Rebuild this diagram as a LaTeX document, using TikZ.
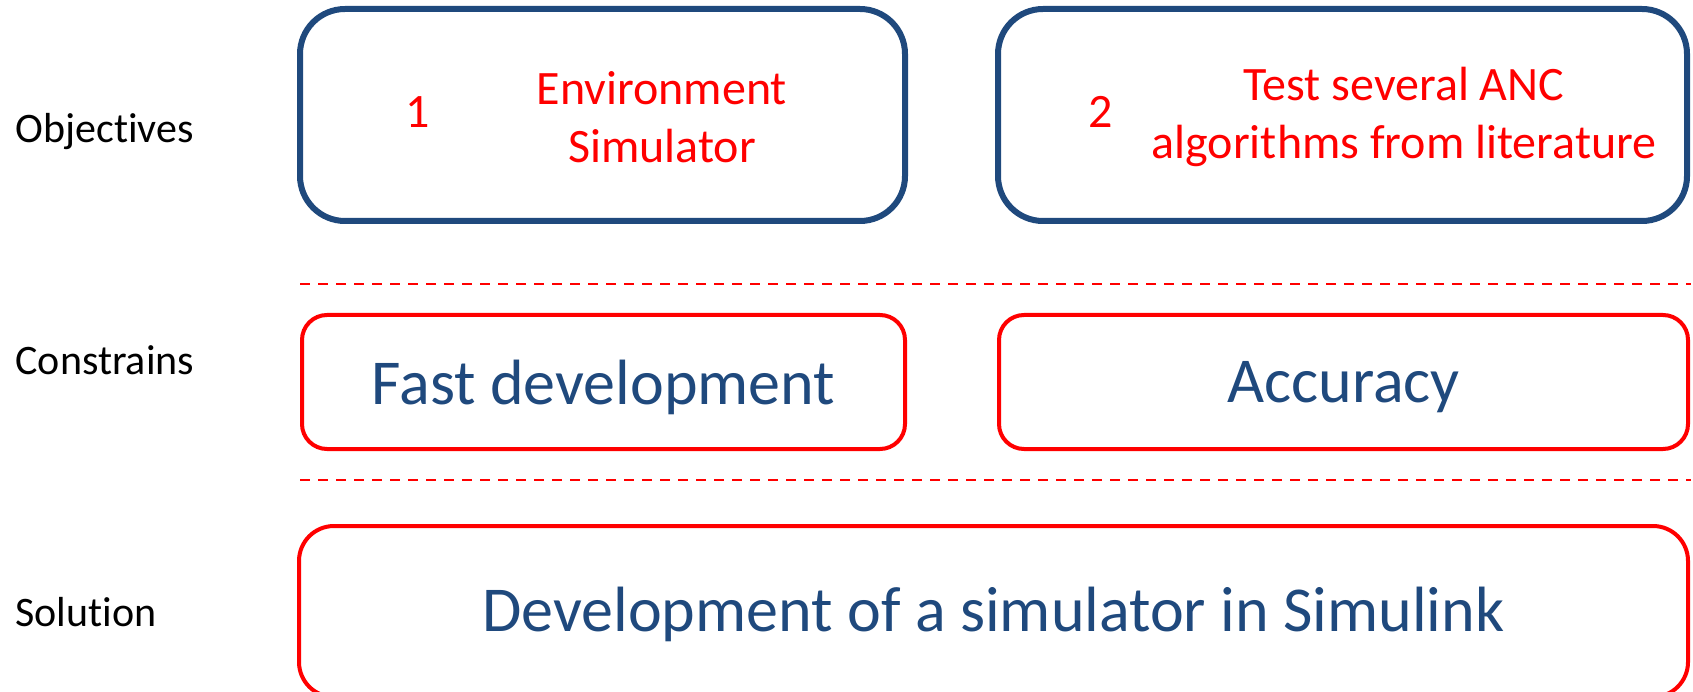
\documentclass[tikz,border=0pt]{standalone}
\usepackage{fontspec}
\setmainfont[RawFeature=-liga]{Carlito}
\definecolor{boxblue}{RGB}{31,73,125}

\begin{document}
\begin{tikzpicture}[x=1pt,y=-1pt]

        \useasboundingbox (0,0) rectangle (1693,692);

        \begin{scope}[every node/.style={anchor=west, font=\fontsize{42}{50}\selectfont}]
          \node (lobj)  at (12,132) {Objectives};
          \node (lcon)  at (12,360) {Constrains};
          \node (lsol)  at (12,612) {Solution};
        \end{scope}

        \begin{scope}[every node/.style={draw=boxblue, line width=6pt, rounded corners=45pt, minimum height=212, inner sep=0pt}]
          \node[minimum width=605] (obj1)  at (602.5,115)  {};
          \node[minimum width=689] (obj2)  at (1342.5,115) {};
        \end{scope}

        \begin{scope}[every node/.style={text=red, font=\fontsize{48}{58}\selectfont, align=center}]
          \node (n1)  at (418,112)  {1};
          \node (t1)  at (662,117)  {Environment\\Simulator};
          \node (n2)  at (1101,112) {2};
          \node (t2)  at (1404,117) {Test several ANC\\algorithms from literature};
        \end{scope}

        \begin{scope}[every node/.style={draw=red, line width=4pt, text=boxblue, font=\fontsize{64}{76}\selectfont, inner sep=0pt}]
          \node[rounded corners=25pt, minimum width=603, minimum height=134, text depth=0pt] (c1)  at (603.5,382)  {Fast development};
          \node[rounded corners=25pt, minimum width=689, minimum height=134, text depth=0pt] (c2)  at (1343.5,382) {Accuracy};
          \node[rounded corners=35pt, minimum width=1389, minimum height=171, text depth=4pt] (s1)  at (993.5,611.5) {Development of a simulator in Simulink};
        \end{scope}

        \begin{scope}[every path/.style={draw=red, line width=2pt, dash pattern=on 10pt off 8pt}]
          \path (300,284) -- (1691,284);
          \path (300,480) -- (1691,480);
        \end{scope}

      \end{tikzpicture}
\end{document}
